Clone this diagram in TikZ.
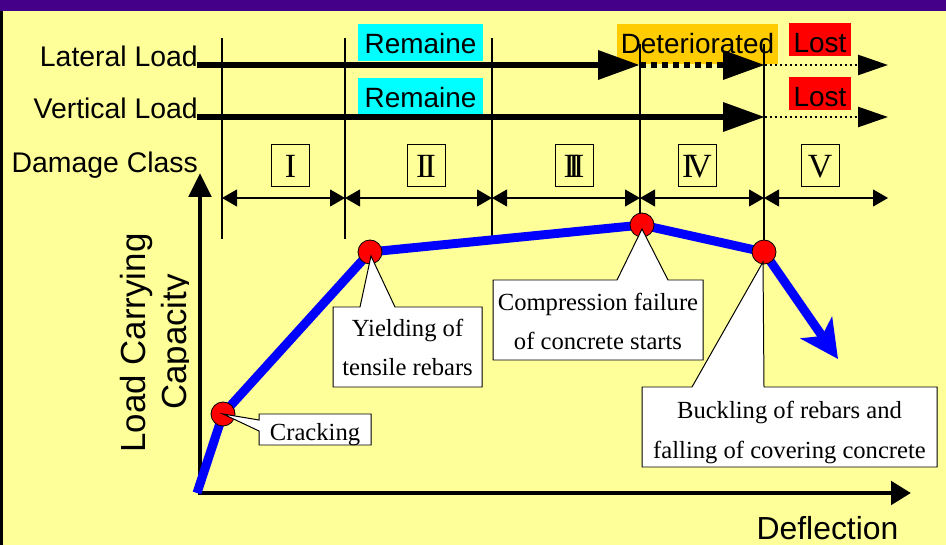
\documentclass[tikz,border=0pt]{standalone}
\usepackage{fontspec}
\setmainfont{Liberation Serif}
\newfontfamily\arialfont{Liberation Sans}
\usetikzlibrary{arrows.meta}

\definecolor{bgyellow}{RGB}{255,255,153}
\definecolor{bandpurple}{RGB}{68,0,136}
\definecolor{remcyan}{RGB}{0,255,255}
\definecolor{detorange}{RGB}{255,204,0}
\definecolor{lostred}{RGB}{255,0,0}
\definecolor{curveblue}{RGB}{0,0,255}

\tikzset{
  rowlabel/.style={font=\arialfont\fontsize{28.5}{30}\selectfont, inner sep=0pt, anchor=base east},
  statetag/.style={font=\arialfont\fontsize{28}{30}\selectfont, inner sep=0pt, anchor=base,
                   text height=30bp},
  classbox/.style={draw, line width=1pt, font=\fontsize{34}{34}\selectfont, inner sep=0pt,
                   minimum width=38bp, text height=33bp, text depth=8bp, anchor=base},
  note/.style={font=\fontsize{24.7}{40}\selectfont, align=center, inner sep=0pt, anchor=base},
  callout/.style={fill=white, draw=black, line width=1pt, line join=miter},
  guide/.style={line width=1.1pt},
  span/.style={line width=1.1pt, {Triangle[length=15bp,width=17bp]}-{Triangle[length=15bp,width=17bp]}},
  load/.style={line width=6.5pt, -{Triangle[length=42bp,width=28bp]}},
  loadworn/.style={line width=6.5pt, dash pattern=on 6pt off 5pt, -{Triangle[length=42bp,width=28bp]}},
  loadlost/.style={line width=2.5pt, dash pattern=on 2.5pt off 2.5pt, -{Triangle[length=30bp,width=20bp]}},
  axis/.style={line width=5pt},
  curve/.style={draw=curveblue, line width=9pt, line join=round,
                -{Stealth[length=38bp,width=38bp,inset=10bp]}},
  dot/.style={circle, fill=lostred, draw=black, line width=0.8pt, minimum size=24bp, inner sep=0pt}
}

\begin{document}
\begin{tikzpicture}[x=1bp,y=-1bp]
  \useasboundingbox (0,0) rectangle (946,545);

  % frame
  \fill[bgyellow] (-2,-2) rectangle (948,547);
  \fill[bandpurple] (-2,-2) rectangle (948,10.7);
  \fill[black] (-2,10.7) rectangle (2.5,547);

  % state tags behind the load arrows
  \node[statetag, fill=remcyan, minimum width=125bp, text depth=7bp] (rem1) at (420.5,54) {Remaine};
  \node[statetag, fill=remcyan, minimum width=125bp, text depth=7bp] (rem2) at (420.5,108) {Remaine};
  \node[statetag, fill=detorange, minimum width=161bp, text depth=10bp] (det) at (697.5,54) {Deteriorated};
  \node[statetag, fill=lostred, minimum width=62bp, text depth=3bp] (lost1) at (820,53) {Lost};
  \node[statetag, fill=lostred, minimum width=62bp, text depth=3bp] (lost2) at (820,107) {Lost};

  % row labels
  \node[rowlabel] (lat) at (198,67) {Lateral Load};
  \node[rowlabel] (ver) at (198,119) {Vertical Load};
  \node[rowlabel] (dmg) at (198,173) {Damage Class};

  % class boundaries
  \coordinate (g1t) at (222,38);  \coordinate (g1b) at (222,239);
  \coordinate (g2t) at (345,38);  \coordinate (g2b) at (345,239);
  \coordinate (g3t) at (492,38);  \coordinate (g3b) at (492,239);
  \coordinate (g4t) at (640,44);  \coordinate (g4b) at (640,225);
  \coordinate (g5t) at (764,44);  \coordinate (g5b) at (764,252);
  \foreach \g in {1,...,5} \draw[guide] (g\g t) -- (g\g b);

  % load arrows
  \coordinate (lat0) at (197,65);  \coordinate (lat1) at (640,65);
  \coordinate (lat2) at (765,65);  \coordinate (lat3) at (888,65);
  \coordinate (ver0) at (197,117); \coordinate (ver1) at (765,117);
  \coordinate (ver2) at (888,117);
  \draw[load] (lat0) -- (lat1);
  \draw[loadworn] (lat1) -- (lat2);
  \draw[loadlost] (lat2) -- (lat3);
  \draw[load] (ver0) -- (ver1);
  \draw[loadlost] (ver1) -- (ver2);

  % damage classes
  \node[classbox] (c1) at (290.5,178) {I};
  \node[classbox] (c2) at (426,178) {I\kern-3pt I};
  \node[classbox] (c3) at (574,178) {I\kern-6.5pt I\kern-6.5pt I};
  \node[classbox] (c4) at (697,178) {I\kern-6pt V};
  \node[classbox] (c5) at (820,178) {V};

  \coordinate (d1) at (222,198); \coordinate (d2) at (345,198);
  \coordinate (d3) at (492,198); \coordinate (d4) at (640,198);
  \coordinate (d5) at (764,198); \coordinate (d6) at (888,198);
  \draw[span] (d1) -- (d2);
  \draw[span] (d2) -- (d3);
  \draw[span] (d3) -- (d4);
  \draw[span] (d4) -- (d5);
  \draw[span] (d5) -- (d6);

  % axes
  \coordinate (org) at (200,493);
  \coordinate (ytip) at (200,173);
  \coordinate (xtip) at (911,493);
  \draw[axis, shorten <=-2.5pt, -{Triangle[length=24bp,width=22bp]}] (org) -- (ytip);
  \draw[axis, shorten <=-2.5pt, -{Triangle[length=20bp,width=23bp]}] (org) -- (xtip);

  \node[font=\arialfont\fontsize{32}{34}\selectfont, inner sep=0pt, anchor=base] (defl) at (827.5,539) {Deflection};
  \node[font=\arialfont\fontsize{35}{37}\selectfont, inner sep=0pt, anchor=base, rotate=90] (cap1) at (145,343) {Load Carrying};
  \begin{scope}
    \clip (150,200) rectangle (188,480);
    \node[font=\arialfont\fontsize{35}{37}\selectfont, inner sep=0pt, anchor=base, rotate=90] (cap2) at (186,342) {Capacity};
  \end{scope}

  % capacity curve
  \coordinate (p0) at (197,493);
  \coordinate (pC) at (223,414);
  \coordinate (pY) at (370,252);
  \coordinate (pK) at (642,225);
  \coordinate (pB) at (764,252);
  \coordinate (pE) at (838,359);
  \draw[curve] (p0) -- (pC) -- (pY) -- (pK) -- (pB) -- (pE);

  \node[dot] (crk) at (pC) {};
  \node[dot] (yld) at (pY) {};
  \node[dot] (cmp) at (pK) {};
  \node[dot] (bck) at (pB) {};

  % callouts (two-line notes are anchored on the baseline of their last line)
  \draw[callout] (259,414) -- (371,414) -- (371,445) -- (259,445) -- (259,431)
                 -- (crk.center) -- (259,420) -- cycle;
  \node[note] (tcrk) at (315,440) {Cracking};

  \draw[callout] (333,307) -- (360,307) -- (371,256) -- (395,307) -- (482,307)
                 -- (482,387) -- (333,387) -- cycle;
  \node[note] (tyld) at (407.5,376) {Yielding of\\tensile rebars};

  \draw[callout] (493,280) -- (617,280) -- (642,229) -- (668,280) -- (703,280)
                 -- (703,360) -- (493,360) -- cycle;
  \node[note] (tcmp) at (598,350) {Compression failure\\of concrete starts};

  \draw[callout] (642,387) -- (692,387) -- (763,262) -- (764,387) -- (937,387)
                 -- (937,467) -- (642,467) -- cycle;
  \node[note] (tbck) at (789.5,458) {Buckling of rebars and\\falling of covering concrete};
\end{tikzpicture}
\end{document}
